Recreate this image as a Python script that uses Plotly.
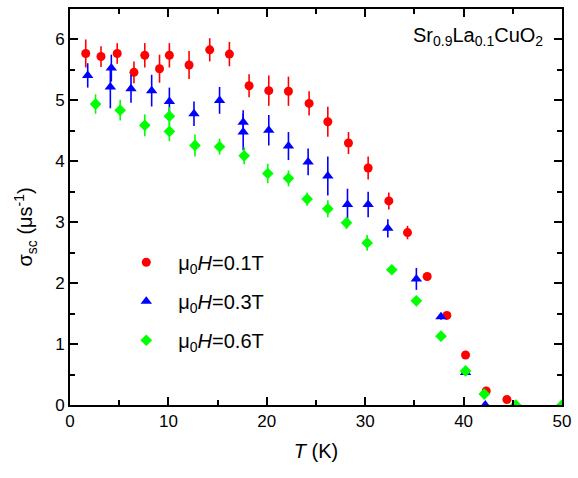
import plotly.graph_objects as go

# Superconducting relaxation rate vs temperature, Sr0.9La0.1CuO2
T_01 = [1.6, 3.15, 4.8, 6.5, 7.6, 9.1, 10.1, 12.1, 14.2, 16.2, 18.2, 20.2, 22.2, 24.3,
        26.2, 28.3, 30.3, 32.4, 34.3, 36.3, 38.3, 40.2, 42.3, 44.4]
sig_01 = [5.77, 5.72, 5.77, 5.46, 5.74, 5.52, 5.74, 5.58, 5.83, 5.76, 5.24, 5.16, 5.15, 4.95,
          4.65, 4.30, 3.89, 3.35, 2.83, 2.11, 1.47, 0.82, 0.23, 0.09]
err_01 = [0.23, 0.17, 0.17, 0.18, 0.20, 0.23, 0.20, 0.23, 0.19, 0.20, 0.19, 0.25, 0.24, 0.20,
          0.245, 0.18, 0.19, 0.14, 0.11, 0.05, 0.05, 0.05, 0.04, 0.03]

T_03 = [1.8, 4.2, 4.1, 6.2, 8.3, 10.1, 12.6, 15.2, 17.6, 17.6, 20.2, 22.2, 24.2, 26.2,
        28.2, 30.3, 32.3, 35.2, 37.7, 40.2, 42.2]
sig_03 = [5.41, 5.53, 5.22, 5.19, 5.16, 4.98, 4.78, 5.00, 4.64, 4.48, 4.51, 4.25, 3.99, 3.76,
          3.29, 3.29, 2.90, 2.07, 1.45, 0.535, 0.0]
err_03 = [0.20, 0.22, 0.35, 0.23, 0.26, 0.23, 0.20, 0.22, 0.20, 0.30, 0.25, 0.23, 0.22, 0.32,
          0.26, 0.21, 0.15, 0.18, 0.05, 0.05, 0.0]

T_06 = [2.6, 5.1, 7.6, 10.1, 10.1, 12.7, 15.2, 17.7, 20.1, 22.2, 24.1, 26.2, 28.1, 30.2,
        32.7, 35.2, 37.7, 40.2, 42.1, 45.3, 50.0]
sig_06 = [4.94, 4.84, 4.59, 4.74, 4.49, 4.26, 4.24, 4.09, 3.80, 3.72, 3.38, 3.22, 2.99, 2.66,
          2.22, 1.71, 1.13, 0.56, 0.18, 0.0, 0.0]
err_06 = [0.16, 0.17, 0.18, 0.15, 0.16, 0.18, 0.13, 0.14, 0.16, 0.13, 0.11, 0.14, 0.10, 0.13,
          0.05, 0.05, 0.05, 0.04, 0.04, 0.0, 0.0]

FONT = "Liberation Sans, Arial, sans-serif"

series = [
    ("μ<sub>0</sub><i>H</i>=0.1T", T_01, sig_01, err_01, "#FF0000", "circle", 9),
    ("μ<sub>0</sub><i>H</i>=0.3T", T_03, sig_03, err_03, "#0000FF", "triangle-up", 10),
    ("μ<sub>0</sub><i>H</i>=0.6T", T_06, sig_06, err_06, "#00FF00", "diamond", 9),
]

fig = go.Figure()
for i, (name, x, y, e, color, sym, size) in enumerate(series):
    fig.add_trace(go.Scatter(
        x=x, y=y, mode="markers", name=name, legendgroup=f"g{i}",
        marker=dict(color=color, symbol=sym, size=size, line=dict(width=0)),
        error_y=dict(type="data", array=e, visible=True, color=color,
                     thickness=1.6, width=0),
    ))

axis_common = dict(
    showline=True, linecolor="black", linewidth=2, mirror="allticks",
    ticks="inside", ticklen=8, tickwidth=1.5, tickcolor="black",
    showgrid=False, zeroline=False,
    tickfont=dict(family=FONT, size=17, color="black"),
)

fig.update_xaxes(range=[0, 50], dtick=10, tick0=0,
                 minor=dict(dtick=5, ticks="inside", ticklen=5, tickwidth=1.5, tickcolor="black"),
                 title=dict(text="<i>T</i> (K)", font=dict(family=FONT, size=20, color="black"),
                            standoff=14),
                 **axis_common)
fig.update_yaxes(range=[0, 6.5], dtick=1, tick0=0,
                 minor=dict(dtick=0.5, ticks="inside", ticklen=5, tickwidth=1.5, tickcolor="black"),
                 **axis_common)

fig.add_annotation(
    text="σ<sub>sc</sub> (μs<sup>-1</sup>)", textangle=-90,
    xref="paper", yref="paper", x=-0.09, y=0.45,
    xanchor="center", yanchor="middle", showarrow=False,
    font=dict(family=FONT, size=20, color="black"),
)
fig.add_annotation(
    text="Sr<sub>0.9</sub>La<sub>0.1</sub>CuO<sub>2</sub>",
    xref="paper", yref="paper", x=0.965, y=0.93,
    xanchor="right", yanchor="middle", showarrow=False,
    font=dict(family=FONT, size=20, color="black"),
)

fig.update_layout(
    width=578, height=478,
    margin=dict(l=70, r=11, t=7, b=73),
    paper_bgcolor="white", plot_bgcolor="white",
    showlegend=True,
    legend=dict(x=0.09, y=0.262, xanchor="left", yanchor="middle",
                bgcolor="rgba(0,0,0,0)", itemwidth=54, tracegroupgap=10,
                font=dict(family=FONT, size=20, color="black")),
)

fig.write_html("out.html")
